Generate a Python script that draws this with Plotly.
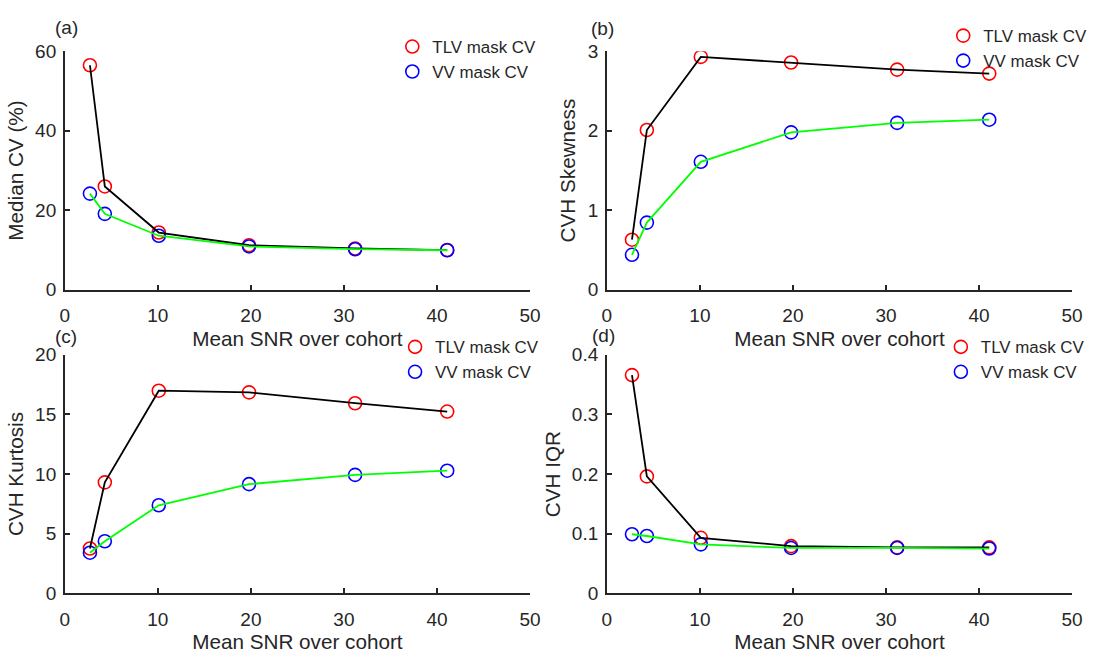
import plotly.graph_objects as go

# Mean SNR of each cohort (shared x values for all four panels)
snr = [2.7, 4.3, 10.1, 19.8, 31.2, 41.1]

# (a) Median CV (%)
median_cv_tlv = [56.5, 26.0, 14.4, 11.2, 10.4, 10.0]
median_cv_vv = [24.2, 19.1, 13.6, 10.9, 10.2, 9.95]

# (b) CVH skewness
skew_tlv = [0.63, 2.01, 2.93, 2.86, 2.77, 2.72]
skew_vv = [0.44, 0.845, 1.61, 1.98, 2.10, 2.14]

# (c) CVH kurtosis
kurt_tlv = [3.75, 9.3, 16.99, 16.85, 15.94, 15.24]
kurt_vv = [3.4, 4.36, 7.38, 9.15, 9.93, 10.28]

# (d) CVH IQR
iqr_tlv = [0.366, 0.196, 0.093, 0.079, 0.077, 0.077]
iqr_vv = [0.099, 0.096, 0.082, 0.076, 0.076, 0.075]

panel_labels = ["(a)", "(b)", "(c)", "(d)"]
y_titles = ["Median CV (%)", "CVH Skewness", "CVH Kurtosis", "CVH IQR"]
y_ranges = [[0, 60], [0, 3], [0, 20], [0, 0.4]]
y_dticks = [20, 1, 5, 0.1]
x_title = "Mean SNR over cohort"
series_names = ["TLV mask CV", "VV mask CV"]

panels = [
    (median_cv_tlv, median_cv_vv),
    (skew_tlv, skew_vv),
    (kurt_tlv, kurt_vv),
    (iqr_tlv, iqr_vv),
]

W, H = 1106, 657
FONT = "Liberation Sans, Arial, Helvetica, sans-serif"
INK = "#262626"

# axes boxes in pixels: (left, right, top, bottom)
boxes = [
    (60.7, 532.7, 42.7, 289.0),
    (610.7, 1082.7, 42.7, 289.0),
    (60.7, 532.7, 356.2, 602.5),
    (610.7, 1082.7, 356.2, 602.5),
]
# legend anchor (left, top) in pixels
legend_pos = [(393, 19.7), (952, 8.4), (395.8, 329.9), (949.6, 329.9)]
# panel label centres in pixels
label_pos = [(62, 18), (606, 19), (62, 337), (607, 336)]

fig = go.Figure()
layout = dict(
    width=W, height=H,
    margin=dict(l=0, r=0, t=0, b=0),
    paper_bgcolor="white", plot_bgcolor="white",
    font=dict(family=FONT, color=INK, size=19),
    annotations=[],
)

for i, (tlv, vv) in enumerate(panels):
    n = i + 1
    xa = "x" if n == 1 else f"x{n}"
    ya = "y" if n == 1 else f"y{n}"
    lg = "legend" if n == 1 else f"legend{n}"

    fig.add_trace(go.Scatter(
        x=snr, y=tlv, mode="markers", name=series_names[0],
        xaxis=xa, yaxis=ya, legend=lg,
        marker=dict(symbol="circle-open", size=13, color="#ff0000",
                    line=dict(width=1.6, color="#ff0000")),
    ))
    fig.add_trace(go.Scatter(
        x=snr, y=vv, mode="markers", name=series_names[1],
        xaxis=xa, yaxis=ya, legend=lg,
        marker=dict(symbol="circle-open", size=13, color="#0000ff",
                    line=dict(width=1.6, color="#0000ff")),
    ))
    fig.add_trace(go.Scatter(
        x=snr, y=tlv, mode="lines", showlegend=False,
        xaxis=xa, yaxis=ya, line=dict(color="#000000", width=1.8),
        hoverinfo="skip",
    ))
    fig.add_trace(go.Scatter(
        x=snr, y=vv, mode="lines", showlegend=False,
        xaxis=xa, yaxis=ya, line=dict(color="#00ff00", width=1.8),
        hoverinfo="skip",
    ))

    l, r, t, b = boxes[i]
    common = dict(
        showline=True, linecolor=INK, linewidth=1.6,
        ticks="inside", ticklen=5, tickwidth=1.5, tickcolor=INK,
        showgrid=False, zeroline=False, mirror=False,
        tickfont=dict(family=FONT, size=19, color=INK),
    )
    layout["xaxis" if n == 1 else f"xaxis{n}"] = dict(
        common, domain=[l / W, r / W], range=[0, 50], dtick=10, tick0=0,
        anchor=ya, ticklabelstandoff=8,
        title=dict(text=x_title, font=dict(family=FONT, size=20.7, color=INK),
                   standoff=6),
    )
    layout["yaxis" if n == 1 else f"yaxis{n}"] = dict(
        common, domain=[1 - b / H, 1 - t / H], range=y_ranges[i],
        dtick=y_dticks[i], tick0=0, anchor=xa, ticklabelstandoff=3,
        title=dict(text=y_titles[i], font=dict(family=FONT, size=20.7, color=INK),
                   standoff=6),
    )
    lx, ly = legend_pos[i]
    layout[lg] = dict(
        x=lx / W, y=1 - ly / H, xanchor="left", yanchor="top",
        bgcolor="rgba(0,0,0,0)", borderwidth=0,
        font=dict(family=FONT, size=16.9, color=INK),
        tracegroupgap=0,
    )
    px_, py_ = label_pos[i]
    layout["annotations"].append(dict(
        text=panel_labels[i], xref="paper", yref="paper",
        x=px_ / W, y=1 - py_ / H, xanchor="center", yanchor="middle",
        showarrow=False, font=dict(family=FONT, size=19, color=INK),
    ))

fig.update_layout(**layout)
fig.write_html("out.html")
